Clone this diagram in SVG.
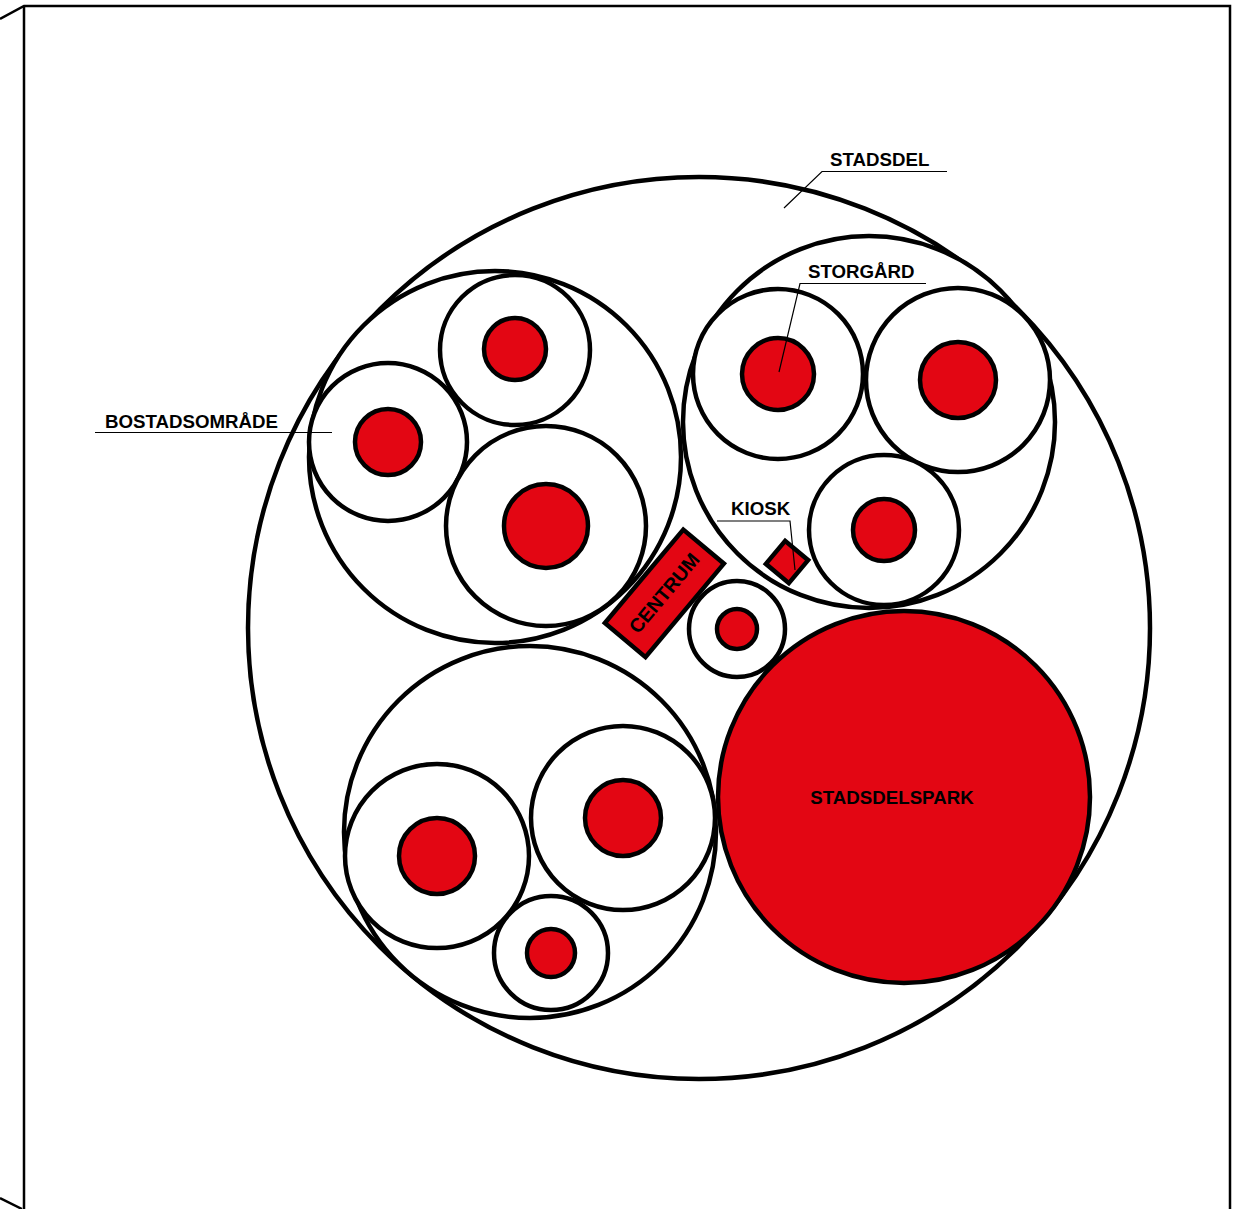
<svg xmlns="http://www.w3.org/2000/svg" width="1250" height="1209" viewBox="0 0 1250 1209">
<style>
.w{fill:#fff;stroke:#000;stroke-width:4.5}
.r{fill:#e30613;stroke:#000;stroke-width:4.5}
.ld{fill:none;stroke:#000;stroke-width:1.2}
.fr{fill:none;stroke:#000;stroke-width:2.5}
text{font-family:"Liberation Sans",Arial,sans-serif;font-weight:bold;font-size:18.7px;fill:#000}
</style>
<rect width="1250" height="1209" fill="#fff"/>
<g id="frame">
<path class="fr" d="M0,19 L24,6 L1230,6 L1230,1209"/>
<path class="fr" d="M24,6 L24,1209"/>
<path class="fr" d="M0,1198 L22,1209"/>
</g>
<g id="stadsdel"><circle class="w" cx="699" cy="628" r="451"/></g>
<g id="bostadsomrade1">
<circle class="w" cx="495" cy="457" r="186"/>
<circle class="w" cx="515" cy="350" r="75"/><circle class="r" cx="515" cy="349" r="31"/>
<circle class="w" cx="388" cy="442" r="79"/><circle class="r" cx="388" cy="442" r="33"/>
<circle class="w" cx="546" cy="526" r="100"/><circle class="r" cx="546" cy="526" r="42"/>
</g>
<g id="storgard">
<circle class="w" cx="869" cy="422" r="186"/>
<circle class="w" cx="778" cy="374" r="85"/><circle class="r" cx="778" cy="374" r="36"/>
<circle class="w" cx="958" cy="380" r="92"/><circle class="r" cx="958" cy="380" r="38"/>
<circle class="w" cx="884" cy="530" r="75"/><circle class="r" cx="884" cy="530" r="31"/>
</g>
<g id="bostadsomrade2">
<circle class="w" cx="530" cy="832" r="186"/>
<circle class="w" cx="437" cy="856" r="92"/><circle class="r" cx="437" cy="856" r="38"/>
<circle class="w" cx="623" cy="818" r="92"/><circle class="r" cx="623" cy="818" r="38"/>
<circle class="w" cx="551" cy="953" r="57"/><circle class="r" cx="551" cy="953" r="24"/>
</g>
<g id="mid"><circle class="w" cx="737" cy="629" r="48"/><circle class="r" cx="737" cy="629" r="20"/></g>
<g id="park">
<circle class="r" cx="904" cy="797" r="186"/>
<text x="892" y="804" text-anchor="middle">STADSDELSPARK</text>
</g>
<g id="centrum" transform="translate(664,593) rotate(-50)">
<rect class="r" x="-61" y="-26" width="122" height="53"/>
<text x="0" y="7" text-anchor="middle" style="font-size:19.5px">CENTRUM</text>
</g>
<g id="kiosk"><rect class="r" x="-15" y="-15" width="30" height="30" transform="translate(787,562) rotate(-50)"/></g>
<g id="labels">
<path class="ld" d="M947,171.5 L822,171.5 L784,208"/>
<text x="830" y="166">STADSDEL</text>
<path class="ld" d="M926,283.5 L800,283.5 L779,372"/>
<text x="808" y="278">STORGÅRD</text>
<path class="ld" d="M95,432.5 L332,432.5"/>
<text x="105" y="428">BOSTADSOMRÅDE</text>
<path class="ld" d="M717,521 L790,521 L795,570"/>
<text x="731" y="515">KIOSK</text>
</g>
</svg>
